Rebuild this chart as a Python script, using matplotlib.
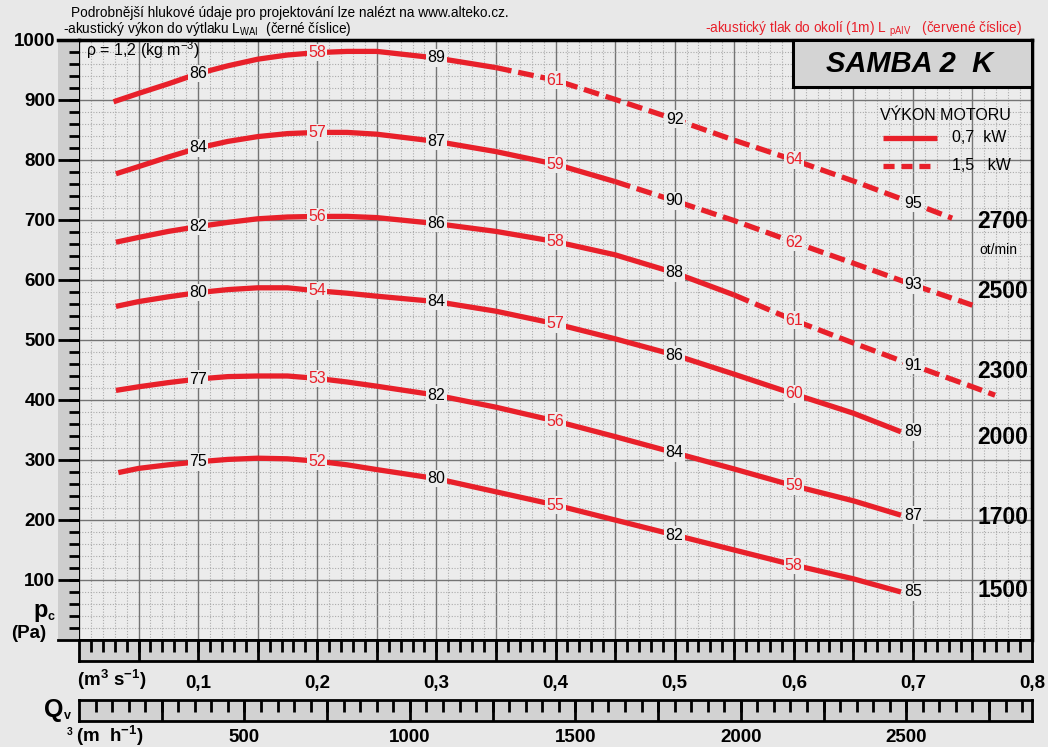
import numpy as np
import matplotlib
matplotlib.use('Agg')
import matplotlib.pyplot as plt
from matplotlib.lines import Line2D
from matplotlib.patches import Rectangle

plt.rcParams['font.family'] = ['Liberation Sans', 'DejaVu Sans']
plt.rcParams['mathtext.fontset'] = 'custom'
plt.rcParams['mathtext.rm'] = 'Liberation Sans'
plt.rcParams['mathtext.bf'] = 'Liberation Sans:bold'
plt.rcParams['mathtext.it'] = 'Liberation Sans:italic'
plt.rcParams['mathtext.default'] = 'regular'

RED = '#e8202a'
BG = '#ececec'

# fan curves, flow Q (m3/s) vs total pressure pc (Pa)
q_2700 = [0.029, 0.05, 0.075, 0.10, 0.125, 0.15, 0.175, 0.20, 0.225, 0.25, 0.30, 0.35, 0.40, 0.45,
          0.50, 0.55, 0.60, 0.65, 0.70, 0.733]
p_2700 = [897, 911, 927, 944, 957, 968, 975, 979, 981, 981, 970, 954, 933, 901,
          868, 833, 800, 765, 728, 703]
q_2500 = [0.031, 0.05, 0.075, 0.10, 0.125, 0.15, 0.175, 0.20, 0.225, 0.25, 0.30, 0.35, 0.40, 0.45,
          0.50, 0.55, 0.60, 0.65, 0.70, 0.75]
p_2500 = [777, 789, 805, 820, 831, 839, 844, 846, 846, 843, 831, 814, 793, 764,
          732, 699, 663, 628, 592, 558]
q_2300 = [0.031, 0.05, 0.075, 0.10, 0.125, 0.15, 0.175, 0.20, 0.225, 0.25, 0.30, 0.35, 0.40, 0.45,
          0.50, 0.55, 0.60, 0.65, 0.70, 0.75, 0.769]
p_2300 = [663, 671, 681, 689, 696, 702, 705, 706, 706, 704, 694, 681, 664, 642,
          612, 575, 533, 495, 458, 422, 408]
q_2000 = [0.031, 0.05, 0.075, 0.10, 0.125, 0.15, 0.175, 0.20, 0.225, 0.25, 0.30, 0.35, 0.40, 0.45,
          0.50, 0.55, 0.60, 0.65, 0.69]
p_2000 = [556, 564, 572, 579, 584, 587, 587, 582, 578, 573, 564, 548, 527, 502,
          475, 443, 410, 378, 347]
q_1700 = [0.031, 0.05, 0.075, 0.10, 0.125, 0.15, 0.175, 0.20, 0.225, 0.25, 0.30, 0.35, 0.40, 0.45,
          0.50, 0.55, 0.60, 0.65, 0.69]
p_1700 = [416, 422, 429, 435, 439, 440, 440, 436, 430, 423, 408, 388, 365, 339,
          312, 285, 257, 232, 208]
q_1500 = [0.033, 0.05, 0.075, 0.10, 0.125, 0.15, 0.175, 0.20, 0.225, 0.25, 0.30, 0.35, 0.40, 0.45,
          0.50, 0.55, 0.60, 0.65, 0.69]
p_1500 = [279, 286, 292, 297, 301, 303, 302, 298, 292, 284, 269, 247, 225, 200,
          175, 150, 125, 102, 80]

# where the 1,5 kW (dashed) part starts
dash_2700, dash_2500, dash_2300 = 0.35, 0.45, 0.55

# noise numbers: LWA (black) and LpA (red)
lwa_q = [0.1, 0.3, 0.5, 0.7]
lpa_q = [0.2, 0.4, 0.6]
lwa_2700, lpa_2700 = [86, 89, 92, 95], [58, 61, 64]
lwa_2500, lpa_2500 = [84, 87, 90, 93], [57, 59, 62]
lwa_2300, lpa_2300 = [82, 86, 88, 91], [56, 58, 61]
lwa_2000, lpa_2000 = [80, 84, 86, 89], [54, 57, 60]
lwa_1700, lpa_1700 = [77, 82, 84, 87], [53, 56, 59]
lwa_1500, lpa_1500 = [75, 80, 82, 85], [52, 55, 58]

speeds = ['2700', '2500', '2300', '2000', '1700', '1500']
speed_y = [697, 580, 447, 338, 205, 82]

W, H = 1048, 747


def fx(x):
    return x / W


def fy(y):
    return 1 - y / H


fig = plt.figure(figsize=(W / 100, H / 100), dpi=100, facecolor='#e8e8e8')

# main plot
ax = fig.add_axes([fx(79), fy(640), (1032 - 79) / W, 600 / H])
ax.set_facecolor(BG)
ax.set_xlim(0, 0.8)
ax.set_ylim(0, 1000)
ax.set_xticks(np.arange(0, 0.801, 0.05))
ax.set_xticks(np.arange(0, 0.801, 0.01), minor=True)
ax.set_yticks(np.arange(0, 1001, 100))
ax.set_yticks(np.arange(0, 1001, 20), minor=True)
ax.set_yticklabels([''] + [str(v) for v in range(100, 1001, 100)], fontsize=13.5, fontweight='bold')
ax.tick_params(which='both', length=0)
ax.tick_params(axis='x', labelbottom=False)
ax.tick_params(axis='y', pad=17)
ax.grid(which='major', color='#747474', lw=1.0)
ax.grid(which='minor', color='#ababab', lw=0.8, ls=(0, (1, 1.5)))
ax.set_axisbelow(True)
for s in ['top', 'right']:
    ax.spines[s].set_linewidth(2.5)
ax.spines['left'].set_linewidth(1.5)
ax.spines['bottom'].set_linewidth(2)

curves = [
    (q_2700, p_2700, lwa_2700, lpa_2700, dash_2700),
    (q_2500, p_2500, lwa_2500, lpa_2500, dash_2500),
    (q_2300, p_2300, lwa_2300, lpa_2300, dash_2300),
    (q_2000, p_2000, lwa_2000, lpa_2000, None),
    (q_1700, p_1700, lwa_1700, lpa_1700, None),
    (q_1500, p_1500, lwa_1500, lpa_1500, None),
]
box = dict(boxstyle='square,pad=0.08', facecolor=BG, edgecolor='none')
for q, p, lwa, lpa, cut in curves:
    q = np.array(q)
    p = np.array(p)
    if cut is None:
        ax.plot(q, p, color=RED, lw=3.8, solid_capstyle='butt', solid_joinstyle='round', zorder=3)
    else:
        s = q <= cut + 1e-9
        d = q >= cut - 1e-9
        ax.plot(q[s], p[s], color=RED, lw=3.8, solid_capstyle='butt', solid_joinstyle='round', zorder=3)
        ax.plot(q[d], p[d], color=RED, lw=3.8, dashes=(3, 1.3), zorder=3)
    for xq, v in zip(lwa_q, lwa):
        ax.text(xq, np.interp(xq, q, p), str(v), color='black', fontsize=11.5,
                ha='center', va='center', bbox=box, zorder=4)
    for xq, v in zip(lpa_q, lpa):
        ax.text(xq, np.interp(xq, q, p), str(v), color=RED, fontsize=11.5,
                ha='center', va='center', bbox=box, zorder=4)

for lab, y in zip(speeds, speed_y):
    ax.text(0.797, y, lab, ha='right', va='center', fontsize=16.5, fontweight='bold', zorder=4)
ax.text(0.772, 650, 'ot/min', ha='center', va='center', fontsize=10, zorder=4)

# left tick band
axl = fig.add_axes([fx(58), fy(640), 21 / W, 600 / H])
axl.set_facecolor('#cdcdcd')
axl.set_xlim(0, 1)
axl.set_ylim(0, 1000)
axl.hlines(np.arange(20, 1000, 20), 0.5, 1, color='black', lw=2)
axl.hlines(np.arange(100, 1000, 100), 0, 1, color='black', lw=2)
axl.set_xticks([])
axl.set_yticks([])
axl.spines['left'].set_visible(False)
axl.spines['right'].set_visible(False)
axl.spines['top'].set_linewidth(2.5)
axl.spines['bottom'].set_linewidth(2)

# flow scale m3/s
axb1 = fig.add_axes([fx(79), fy(661), 953 / W, 21 / H])
axb1.set_facecolor('#d2d2d2')
axb1.set_xlim(0, 0.8)
axb1.set_ylim(0, 1)
axb1.vlines(np.arange(0.01, 0.8, 0.01), 0.45, 1, color='black', lw=2)
axb1.vlines(np.arange(0.05, 0.8, 0.05), 0, 1, color='black', lw=2)
axb1.set_xticks(np.arange(0.1, 0.81, 0.1))
axb1.set_xticklabels(['0,1', '0,2', '0,3', '0,4', '0,5', '0,6', '0,7', '0,8'], fontsize=13.5, fontweight='bold')
axb1.set_yticks([])
axb1.tick_params(length=0, pad=10)
for s in axb1.spines.values():
    s.set_linewidth(2)

# flow scale m3/h
axb2 = fig.add_axes([fx(79), fy(721), 953 / W, 21 / H])
axb2.set_facecolor('#d2d2d2')
axb2.set_xlim(0, 2880)
axb2.set_ylim(0, 1)
axb2.vlines(np.arange(50, 2880, 50), 0.45, 1, color='black', lw=2)
axb2.vlines(np.arange(250, 2880, 250), 0, 1, color='black', lw=2)
axb2.set_xticks([500, 1000, 1500, 2000, 2500])
axb2.set_xticklabels(['500', '1000', '1500', '2000', '2500'], fontsize=13.5, fontweight='bold')
axb2.set_yticks([])
axb2.tick_params(length=0, pad=6)
for s in axb2.spines.values():
    s.set_linewidth(2)

# axis titles
fig.text(fx(77), fy(686), r'(m$^{\mathbf{3}}$ s$^{\mathbf{-1}}$)', fontsize=13.5, fontweight='bold', va='baseline')
fig.text(fx(44), fy(710), 'Q', fontsize=18, fontweight='bold', va='center')
fig.text(fx(64), fy(716), 'v', fontsize=9, fontweight='bold', va='center')
fig.text(fx(67), fy(732), '3', fontsize=7.5, fontweight='bold', va='center')
fig.text(fx(76), fy(742), r'(m  h$^{\mathbf{-1}}$)', fontsize=13.5, fontweight='bold', va='baseline')
fig.text(fx(33), fy(610), 'p', fontsize=17, fontweight='bold', va='center')
fig.text(fx(47), fy(617), 'c', fontsize=9, fontweight='bold', va='center')
fig.text(fx(11), fy(634), '(Pa)', fontsize=13.5, fontweight='bold', va='center')

# header texts
fig.text(fx(71), fy(13), 'Podrobnější hlukové údaje pro projektování lze nalézt na www.alteko.cz.',
         fontsize=9.8, va='center')
fig.text(fx(63), fy(29), r'-akustický výkon do výtlaku L$_{\mathrm{WAI}}$  (černé číslice)',
         fontsize=9.8, va='center')
fig.text(fx(705), fy(29), r'-akustický tlak do okolí (1m) L $_{\mathrm{pAIV}}$   (červené číslice)',
         fontsize=9.8, va='center', color=RED)
fig.text(fx(86), fy(50), r'ρ = 1,2 (kg m$^{-3}$)', fontsize=11.5, va='center', zorder=6)

# title box
fig.add_artist(Rectangle((fx(793), fy(87)), (1032 - 793) / W, 47 / H, transform=fig.transFigure,
                         facecolor='#d4d4d4', edgecolor='black', lw=2.2, zorder=10))
fig.text(fx(910), fy(64), 'SAMBA 2  K', fontsize=21, fontweight='bold', style='italic',
         ha='center', va='center', zorder=11)

# legend
fig.text(fx(880), fy(115), 'VÝKON MOTORU', fontsize=11.5, va='center', zorder=6)
fig.add_artist(Line2D([fx(883), fx(937)], [fy(138), fy(138)], color=RED, lw=3.8,
                      solid_capstyle='butt', zorder=6))
fig.text(fx(952), fy(138), '0,7  kW', fontsize=11.5, va='center', zorder=6)
fig.add_artist(Line2D([fx(883), fx(937)], [fy(166), fy(166)], color=RED, lw=3.8,
                      dashes=(2.1, 1.3), zorder=6))
fig.text(fx(952), fy(166), '1,5   kW', fontsize=11.5, va='center', zorder=6)

fig.savefig('out.png', dpi=100, facecolor=fig.get_facecolor())
